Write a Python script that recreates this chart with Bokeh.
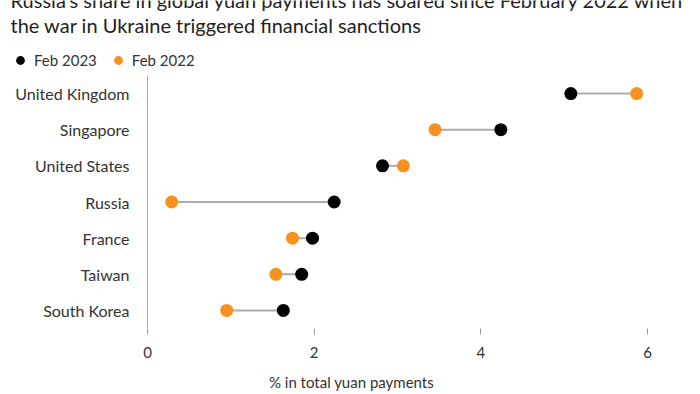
from bokeh.plotting import figure
from bokeh.models import (FactorRange, Range1d, FixedTicker, Legend, LegendItem)
from bokeh.layouts import column
from bokeh.core.properties import value
from bokeh.embed import file_html
from bokeh.resources import INLINE

# ---- data ----
countries = ["United Kingdom", "Singapore", "United States", "Russia", "France", "Taiwan", "South Korea"]
feb_2023 = [5.08, 4.24, 2.82, 2.24, 1.98, 1.85, 1.63]
feb_2022 = [5.87, 3.45, 3.07, 0.29, 1.74, 1.54, 0.95]
x_ticks = [0, 2, 4, 6]
title_lines = ["Russia's share in global yuan payments has soared since February 2022 when",
               "the war in Ukraine triggered financial sanctions"]
x_title = "% in total yuan payments"
series_names = ["Feb 2023", "Feb 2022"]

FONT = "Lato"
BLACK = "#000000"
ORANGE = "#F7911E"
LINE = "#ABABAB"
TEXT = "#333333"
W = 700
NAN = float("nan")


def blank(fig):
    fig.outline_line_color = None
    fig.grid.grid_line_color = None
    fig.border_fill_color = "white"
    fig.background_fill_color = "white"
    if "frame_align" in fig.properties():
        fig.frame_align = False
    return fig


# ---- header: title + legend (pixel coordinate space, y downward) ----
HH = 75
header = blank(figure(width=W, height=HH, output_backend="svg", toolbar_location=None,
                      x_range=Range1d(0, W), y_range=Range1d(HH, 0),
                      min_border=0, x_axis_location=None, y_axis_location=None,
                      title_location=None))
header.text(x=[10, 10], y=[-1, 24], text=title_lines, text_font=value(FONT),
            text_font_size="20px", text_color="#222222", text_baseline="middle",
            text_align="left")
# legend keys: renderers with no visible point (NaN), used only for the legend swatches
d23 = header.scatter(x=[NAN], y=[NAN], size=9, fill_color=BLACK, line_color=None)
d22 = header.scatter(x=[NAN], y=[NAN], size=9, fill_color=ORANGE, line_color=None)
legend = Legend(items=[LegendItem(label=series_names[0], renderers=[d23]),
                       LegendItem(label=series_names[1], renderers=[d22])],
                location=(9, 4), orientation="horizontal",
                glyph_width=22, glyph_height=22, label_standoff=3, spacing=10,
                padding=0, margin=0, border_line_color=None, background_fill_alpha=0,
                label_text_font=FONT, label_text_font_size="15px", label_text_color=TEXT,
                label_height=22)
header.add_layout(legend, "center")

# ---- main dumbbell chart ----
p = figure(width=W, height=288, output_backend="svg", toolbar_location=None,
           y_range=FactorRange(factors=list(reversed(countries))),
           x_range=Range1d(0, 6.6), title_location=None,
           min_border_left=147, min_border_right=3, min_border_top=0, min_border_bottom=35)
blank(p)

p.segment(x0=feb_2022, y0=countries, x1=feb_2023, y1=countries, line_color=LINE, line_width=2)
p.scatter(x=feb_2023, y=countries, size=13, fill_color=BLACK, line_color=None)
p.scatter(x=feb_2022, y=countries, size=13, fill_color=ORANGE, line_color=None)

ya = p.yaxis[0]
ya.axis_line_color = "#AAAAAA"
ya.axis_line_width = 1
ya.major_tick_line_color = None
ya.minor_tick_line_color = None
ya.major_tick_in = 0
ya.major_tick_out = 0
ya.major_label_standoff = 18
ya.major_label_text_font = FONT
ya.major_label_text_font_size = "16px"
ya.major_label_text_color = TEXT

xa = p.xaxis[0]
xa.ticker = FixedTicker(ticks=x_ticks)
xa.axis_line_color = None
xa.major_tick_line_color = "#999999"
xa.major_tick_in = 0
xa.major_tick_out = 6
xa.minor_tick_line_color = None
xa.major_label_standoff = 12
xa.major_label_text_font = FONT
xa.major_label_text_font_size = "15px"
xa.major_label_text_color = TEXT

# ---- footer: x axis title ----
FH = 31
footer = blank(figure(width=W, height=FH, output_backend="svg", toolbar_location=None,
                      x_range=Range1d(0, W), y_range=Range1d(FH, 0),
                      min_border=0, x_axis_location=None, y_axis_location=None,
                      title_location=None))
footer.text(x=[351], y=[18], text=[x_title], text_font=value(FONT), text_font_size="15px",
            text_color=TEXT, text_baseline="middle", text_align="center")

layout = column(header, p, footer, spacing=0)
open("out.html", "w").write(file_html(layout, INLINE))
